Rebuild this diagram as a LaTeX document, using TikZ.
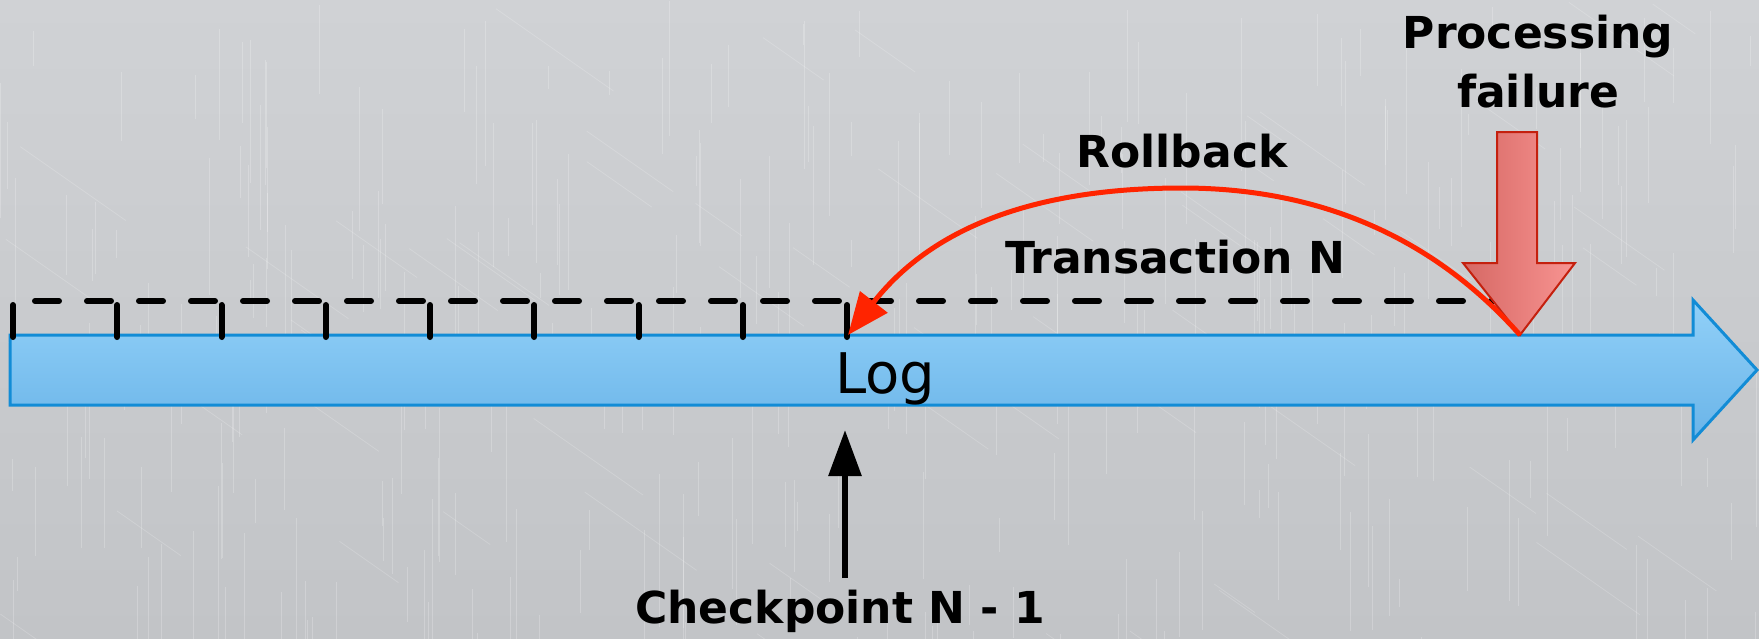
\documentclass[tikz,border=0pt]{standalone}
\usepackage{fontspec}
\setmainfont{DejaVu Sans}
\usetikzlibrary{arrows.meta}
\definecolor{bgtop}{RGB}{208,210,213}
\definecolor{bgbot}{RGB}{194,196,199}
\definecolor{logtop}{RGB}{145,208,248}
\definecolor{logbot}{RGB}{106,180,232}
\definecolor{logedge}{RGB}{18,140,214}
\definecolor{rbred}{RGB}{255,36,0}
\definecolor{failL}{RGB}{214,104,100}
\definecolor{failR}{RGB}{248,148,146}
\definecolor{failedge}{RGB}{196,32,14}
\begin{document}
\begin{tikzpicture}[x=1pt,y=-1pt,
  boldtxt/.style={font=\fontsize{44}{59}\selectfont\bfseries, inner sep=0pt, anchor=base},
  logtxt/.style={font=\fontsize{56}{60}\selectfont, inner sep=0pt, anchor=base west},
  tickline/.style={line width=6pt, line cap=round},
  txline/.style={line width=6pt, line cap=round, dash pattern=on 24pt off 28pt},
  rbline/.style={draw=rbred, line width=5pt, -{Triangle[length=42pt,width=34pt]}},
  cpline/.style={line width=6pt, -{Triangle[length=46pt,width=32pt]}},
  logbody/.style={top color=logtop, bottom color=logbot, draw=logedge, line width=3pt, line join=miter},
  failbody/.style={left color=failL, right color=failR, draw=failedge, line width=2pt, line join=miter},
  scratch/.style={white, opacity=0.22, line width=0.8pt}]
\useasboundingbox (0,0) rectangle (1759,638);
% background
\shade[top color=bgtop, bottom color=bgbot] (0,0) rectangle (1759,638);
\pgfmathsetseed{7}
\foreach \i in {1,...,300}{
  \pgfmathsetmacro\xx{rnd*1759}
  \pgfmathsetmacro\yy{rnd*638}
  \pgfmathsetmacro\ll{20+rnd*140}
  \draw[scratch] (\xx,\yy) -- ++(0,\ll);
}
\foreach \i in {1,...,60}{
  \pgfmathsetmacro\xx{rnd*1759}
  \pgfmathsetmacro\yy{rnd*638}
  \pgfmathsetmacro\ll{30+rnd*90}
  \draw[scratch, opacity=0.18] (\xx,\yy) -- ++(\ll,\ll*0.7);
}
% log arrow
\path[logbody] (10,335) -- (1693,335) -- (1693,300) -- (1757,370) -- (1693,440) -- (1693,405) -- (10,405) -- cycle;
\node[logtxt] (log) at (835,393) {Log};
% ticks
\foreach \k in {0,...,8}{
  \coordinate (t\k) at ({13+104.25*\k},305);
  \draw[tickline] (t\k) -- ++(0,32);
}
\coordinate (dstart) at (35,301);
\coordinate (dend) at (1500,301);
\draw[txline] (dstart) -- (dend);
% failure arrow
\coordinate (fail) at (1520,335);
\path[failbody] (1497,132) -- (1537,132) -- (1537,263) -- (1575,263) -- (fail) -- (1463,263) -- (1497,263) -- cycle;
\node[boldtxt, align=center] (proc) at (1538,107) {Processing\\failure};
% rollback curve
\coordinate (ckpt) at (848,335);
\coordinate (peak) at (1182,188);
\draw[rbline] (fail) .. controls (1440,245) and (1330,188) .. (peak)
   .. controls (1030,188) and (930,230) .. (ckpt);
\node[boldtxt] (rollback) at (1182,167) {Rollback};
\node[boldtxt] (txn) at (1175,273) {Transaction N};
% checkpoint
\node[boldtxt, anchor=base west] (cp) at (635,623) {Checkpoint N - 1};
\coordinate (cpfoot) at (845,578);
\coordinate (cptip) at (845,430);
\draw[cpline] (cpfoot) -- (cptip);
\end{tikzpicture}
\end{document}
